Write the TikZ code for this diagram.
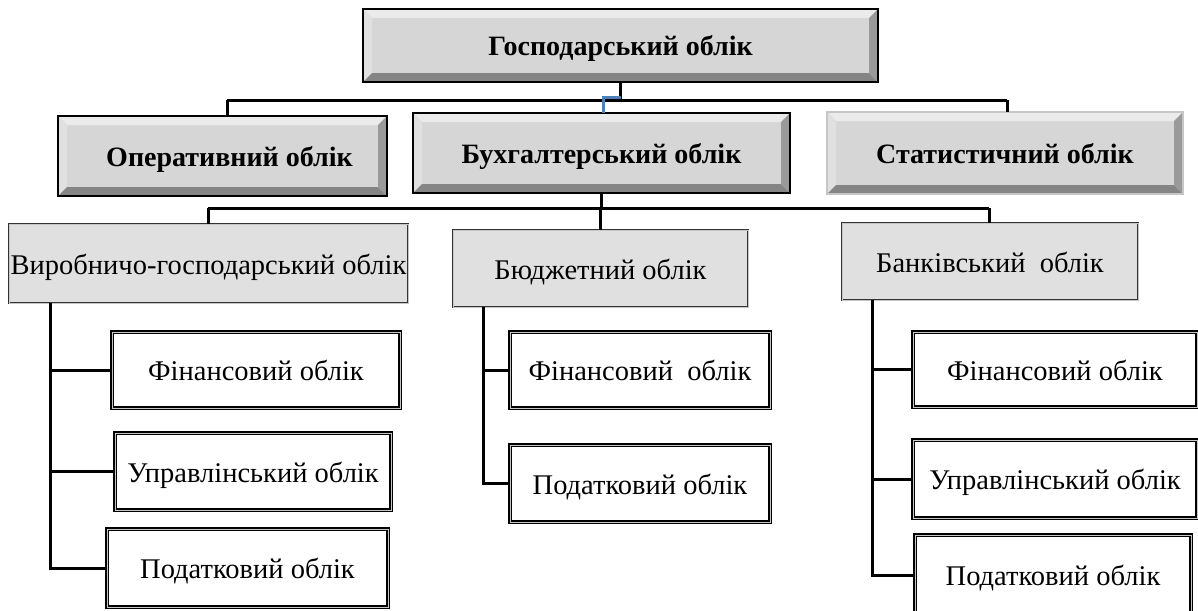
\documentclass[tikz,border=0pt]{standalone}
\usepackage{fontspec}
\setmainfont{Liberation Serif}
\definecolor{bevmid}{HTML}{D6D6D6}
\definecolor{bevtop}{HTML}{EBEBEB}
\definecolor{bevleft}{HTML}{E0E0E0}
\definecolor{bevright}{HTML}{9A9A9A}
\definecolor{bevbot}{HTML}{858585}
\definecolor{lvltwo}{HTML}{E0E0E0}
\definecolor{linkblue}{HTML}{4F7FB5}
\newcommand{\ppb}{path picture bounding box}
\begin{document}
\begin{tikzpicture}[x=1pt,y=-1pt,
  bev/.style={draw=black, line width=2.4pt, fill=bevmid, inner sep=0pt, outer sep=0pt,
    font=\fontsize{28}{32}\selectfont\bfseries, text height=21pt, text depth=0pt,
    path picture={
      \fill[bevtop] (\ppb.north west) -- (\ppb.north east) -- ([xshift=-9pt,yshift=-9pt]\ppb.north east) -- ([xshift=9pt,yshift=-9pt]\ppb.north west) -- cycle;
      \fill[bevleft] (\ppb.north west) -- (\ppb.south west) -- ([xshift=9pt,yshift=9pt]\ppb.south west) -- ([xshift=9pt,yshift=-9pt]\ppb.north west) -- cycle;
      \fill[bevbot] (\ppb.south west) -- (\ppb.south east) -- ([xshift=-9pt,yshift=9pt]\ppb.south east) -- ([xshift=9pt,yshift=9pt]\ppb.south west) -- cycle;
      \fill[bevright] (\ppb.north east) -- (\ppb.south east) -- ([xshift=-9pt,yshift=9pt]\ppb.south east) -- ([xshift=-9pt,yshift=-9pt]\ppb.north east) -- cycle;
    }},
  bevlight/.style={bev, draw=gray!45, line width=1.6pt},
  midbox/.style={draw=black!80, double=gray!45, double distance=0.8pt, line width=1pt,
    fill=lvltwo, inner sep=0pt, outer sep=0pt, font=\fontsize{28.5}{32}\selectfont,
    text height=21pt, text depth=0pt},
  leafbox/.style={draw=black, double=gray!45, double distance=0.9pt, line width=1.3pt,
    fill=white, inner sep=0pt, outer sep=0pt, font=\fontsize{28.5}{32}\selectfont,
    text height=21pt, text depth=0pt},
  conn/.style={line width=3pt, line join=miter},
  bluelink/.style={line width=3pt, draw=linkblue}]
\useasboundingbox (0,0) rectangle (1198,610);

% level 0
\node[bev, minimum width=515pt, minimum height=73pt] (G) at (620.5,45.5) {Господарський облік};
% level 1
\node[bev, minimum width=329pt, minimum height=80pt] (O) at (222.5,156) {\hspace*{14pt}Оперативний облік};
\node[bev, minimum width=377pt, minimum height=80pt] (B) at (601.5,153) {Бухгалтерський облік};
\node[bevlight, minimum width=356pt, minimum height=82pt] (S) at (1005,153) {Статистичний облік};
% level 2
\node[midbox, minimum width=399pt, minimum height=79pt] (V) at (208.5,263.5) {Виробничо-господарський облік};
\node[midbox, minimum width=295pt, minimum height=77pt] (Bu) at (600.5,268.5) {Бюджетний облік};
\node[midbox, minimum width=296pt, minimum height=77pt] (Ba) at (990,261.5) {Банківський\ \ облік};
% leaves
\node[leafbox, minimum width=288pt, minimum height=76pt] (L1) at (256,370) {Фінансовий облік};
\node[leafbox, minimum width=276pt, minimum height=77pt] (L2) at (253,471.5) {Управлінський облік};
\node[leafbox, minimum width=281pt, minimum height=78pt] (L3) at (247.5,568) {Податковий облік};
\node[leafbox, minimum width=260pt, minimum height=76pt] (M1) at (640,370) {Фінансовий\ \ облік};
\node[leafbox, minimum width=260pt, minimum height=77pt] (M2) at (640,483.5) {Податковий облік};
\node[leafbox, minimum width=284pt, minimum height=75pt] (R1) at (1055,369.5) {Фінансовий облік};
\node[leafbox, minimum width=284pt, minimum height=78pt] (R2) at (1055,479) {Управлінський облік};
\node[leafbox, minimum width=276pt, minimum height=80pt] (R3) at (1053,575) {Податковий облік};

% connectors level 0 -> 1
\coordinate (ja) at (227,100);
\coordinate (jb) at (1007,100);
\coordinate (jc) at (603,97);
\draw[conn] (G.south) -- (G.south |- ja);
\draw[conn] (ja) -- (jb);
\draw[conn] (ja) -- (O.north -| ja);
\draw[conn] (jb) -- (S.north -| jb);
\draw[bluelink] (G.south |- jc) -- (jc) -- (B.north -| jc);

% connectors level 1 -> 2
\coordinate (ka) at (208,208);
\coordinate (kb) at (989,208);
\draw[conn] (B.south) -- (B.south |- ka);
\draw[conn] (ka) -- (kb);
\draw[conn] (ka) -- (V.north -| ka);
\draw[conn] (kb) -- (Ba.north -| kb);
\draw[conn] (Bu.north |- ka) -- (Bu.north);

% left tree
\coordinate (va) at (50,303);
\draw[conn] (va) |- (L3.west);
\draw[conn] (va |- L1.west) -- (L1.west);
\draw[conn] (va |- L2.west) -- (L2.west);
% middle tree
\coordinate (ma) at (483,307);
\draw[conn] (ma) |- (M2.west);
\draw[conn] (ma |- M1.west) -- (M1.west);
% right tree
\coordinate (ra) at (872,300);
\draw[conn] (ra) |- (R3.west);
\draw[conn] (ra |- R1.west) -- (R1.west);
\draw[conn] (ra |- R2.west) -- (R2.west);
\end{tikzpicture}
\end{document}
